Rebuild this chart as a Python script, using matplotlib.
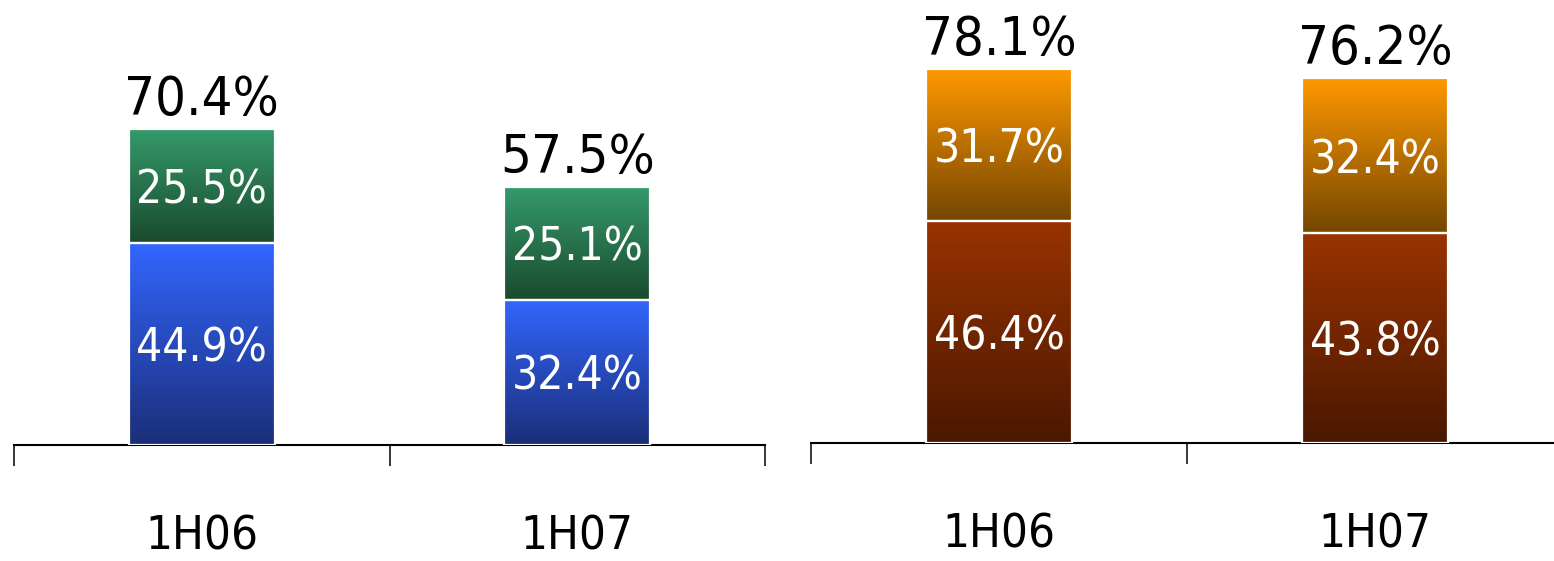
import numpy as np
import matplotlib
matplotlib.use("Agg")
import matplotlib.pyplot as plt
from matplotlib.colors import LinearSegmentedColormap

plt.rcParams['font.family'] = ['DejaVu Sans']
plt.rcParams['font.stretch'] = 'condensed'

# Data
categories = ["1H06", "1H07"]
left_bottom = [44.9, 32.4]
left_top = [25.5, 25.1]
right_bottom = [46.4, 43.8]
right_top = [31.7, 32.4]

left_bottom_labels = ["44.9%", "32.4%"]
left_top_labels = ["25.5%", "25.1%"]
left_total_labels = ["70.4%", "57.5%"]
right_bottom_labels = ["46.4%", "43.8%"]
right_top_labels = ["31.7%", "32.4%"]
right_total_labels = ["78.1%", "76.2%"]

# Gradient colours (bottom -> top of each segment)
blue = ("#1b2e78", "#3366ff")
green = ("#1a4a2e", "#359a6b")
brown = ("#4a1800", "#993300")
orange = ("#744600", "#ff9900")

W, H = 1554, 561
fig = plt.figure(figsize=(W / 100, H / 100), dpi=100)


def gradient_fill(ax, patches, colors):
    cmap = LinearSegmentedColormap.from_list("g", list(colors))
    grad = np.linspace(0, 1, 256).reshape(-1, 1)
    for p in patches:
        x0, y0 = p.get_x(), p.get_y()
        w, h = p.get_width(), p.get_height()
        im = ax.imshow(grad, cmap=cmap, origin="lower", aspect="auto",
                       extent=(x0, x0 + w, y0, y0 + h), zorder=p.get_zorder() - 0.1,
                       interpolation="bilinear")
        im.set_clip_path(p)
        p.set_facecolor("none")


def panel(rect, ymax, bottom, top, bl, tl, totl, c_bottom, c_top):
    ax = fig.add_axes(rect)
    x = np.arange(len(categories))
    width = 0.39
    b1 = ax.bar(x, bottom, width, edgecolor="white", linewidth=1.6, zorder=3)
    b2 = ax.bar(x, top, width, bottom=bottom, edgecolor="white", linewidth=1.6, zorder=3)
    gradient_fill(ax, b1, c_bottom)
    gradient_fill(ax, b2, c_top)

    for i in range(len(categories)):
        ax.text(x[i], bottom[i] / 2, bl[i], ha="center", va="center_baseline",
                color="white", fontsize=33, zorder=5)
        ax.text(x[i], bottom[i] + top[i] / 2, tl[i], ha="center", va="center_baseline",
                color="white", fontsize=33, zorder=5)
        ax.annotate(totl[i], (x[i], bottom[i] + top[i]), xytext=(0, 10),
                    textcoords="offset points", ha="center", va="baseline",
                    color="black", fontsize=39, annotation_clip=False)

    ax.set_xlim(-0.5, len(categories) - 0.5)
    ax.set_ylim(0, ymax)
    for s in ("left", "right", "top"):
        ax.spines[s].set_visible(False)
    ax.spines["bottom"].set_linewidth(1.5)
    ax.set_yticks([])
    ax.set_xticks(np.arange(len(categories) + 1) - 0.5)
    ax.set_xticklabels([])
    ax.tick_params(axis="x", which="major", direction="out", length=15, width=1.1)
    ax.set_xticks(x, minor=True)
    ax.set_xticklabels(categories, minor=True, fontsize=34)
    ax.tick_params(axis="x", which="minor", length=0, pad=50)
    ax.patch.set_alpha(0)
    return ax


panel((14 / W, (H - 445) / H, 751 / W, 449 / H), 100,
      left_bottom, left_top, left_bottom_labels, left_top_labels, left_total_labels,
      blue, green)
panel((811 / W, (H - 443) / H, 752 / W, 431 / H), 90,
      right_bottom, right_top, right_bottom_labels, right_top_labels, right_total_labels,
      brown, orange)

fig.savefig("out.png", dpi=100)
